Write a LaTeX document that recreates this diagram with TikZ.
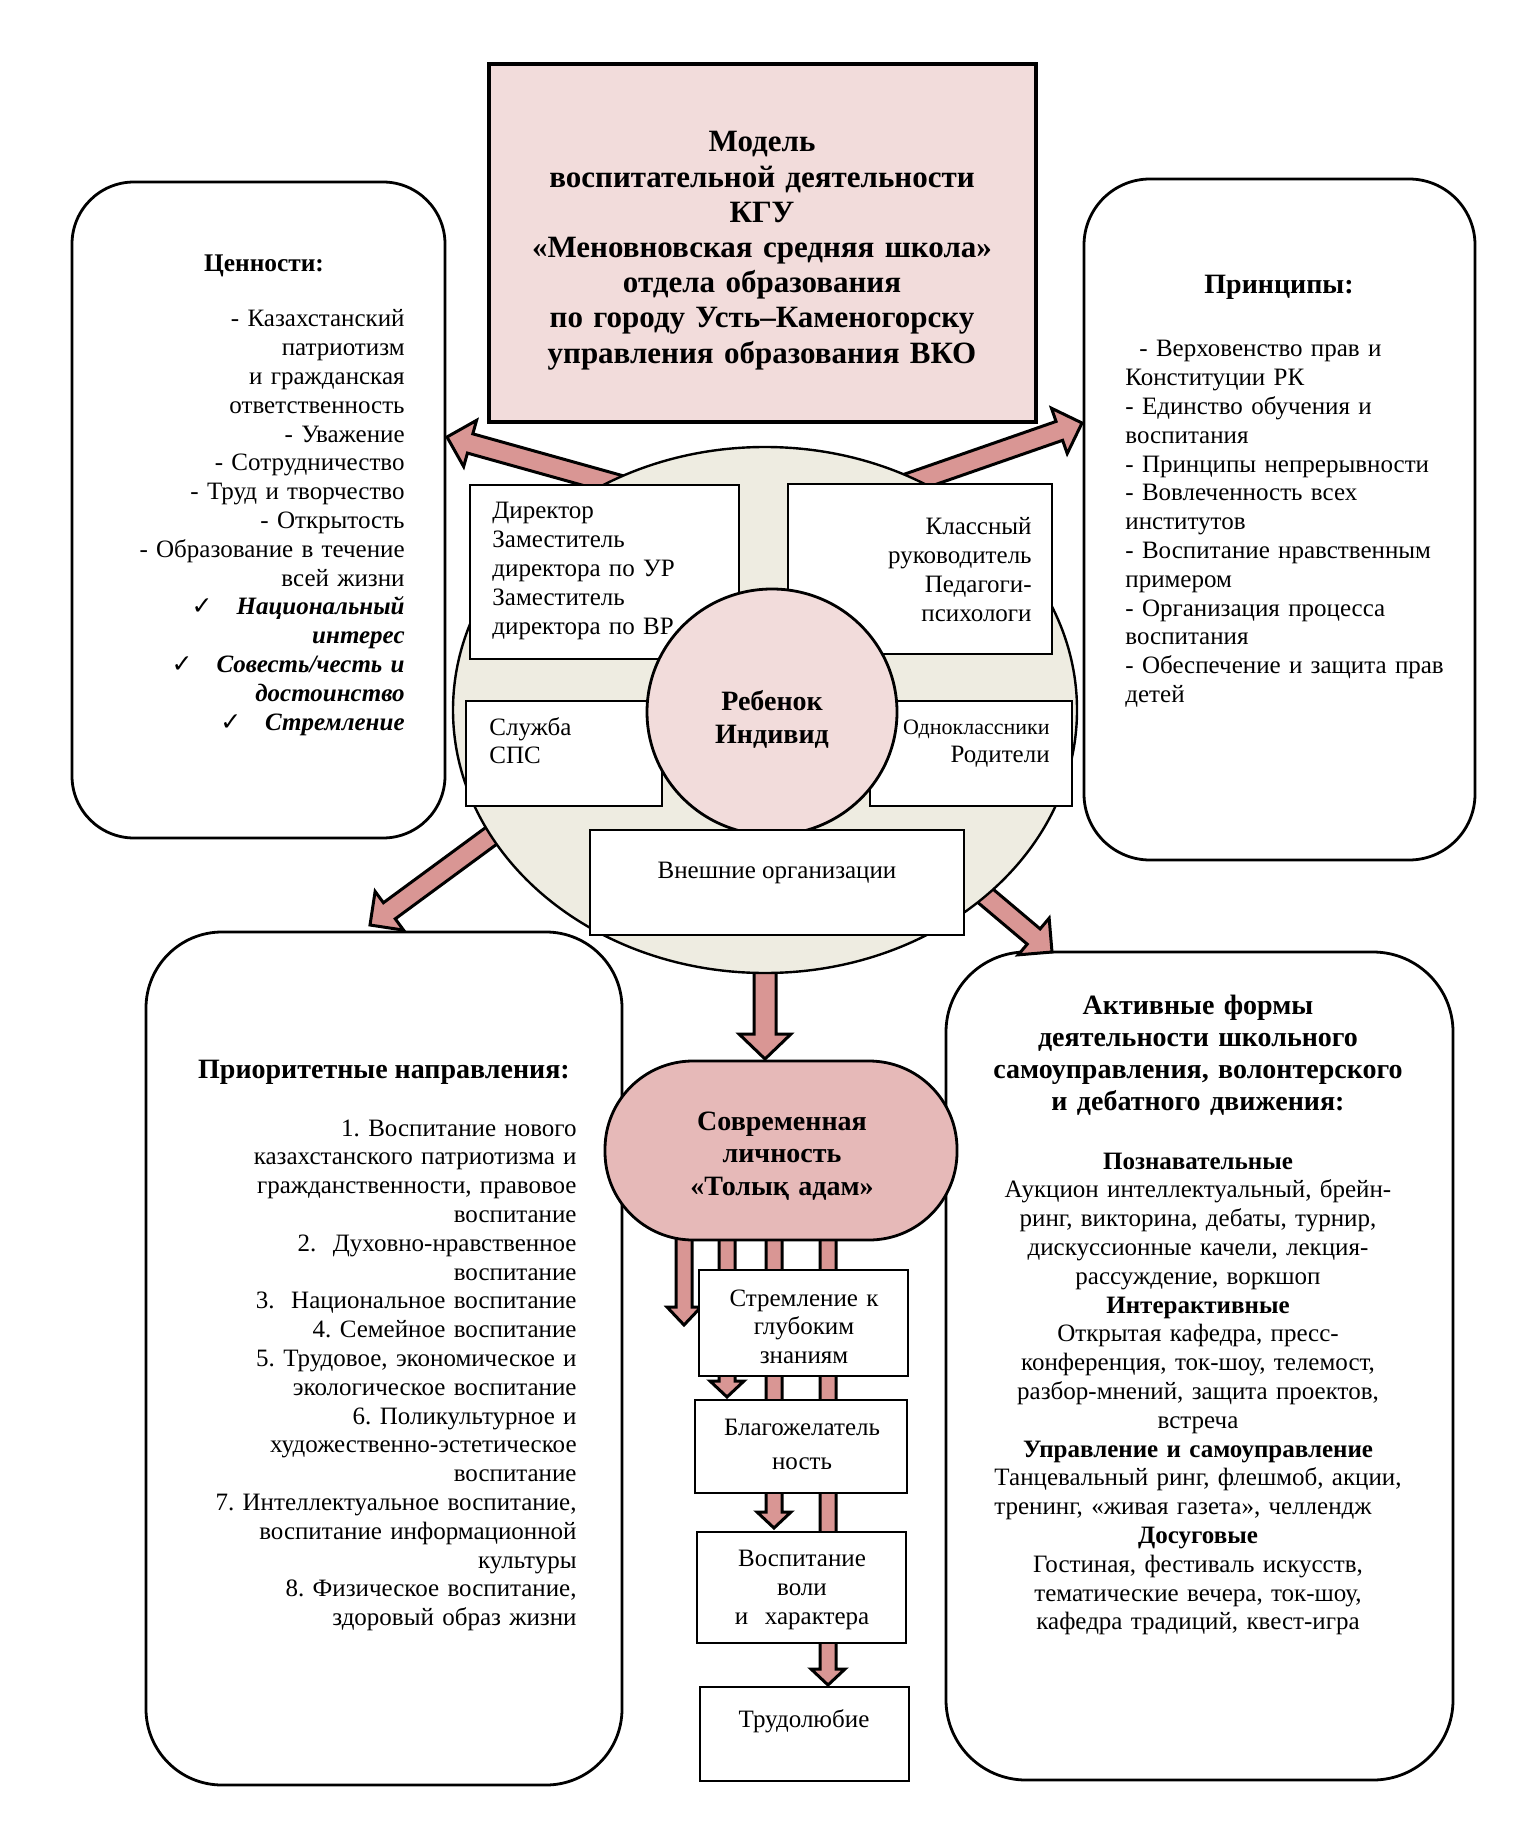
\documentclass[tikz,border=0pt]{standalone}
\usepackage{fontspec}
\setmainfont{Liberation Serif}
\newfontfamily\fuentesimbolos{DejaVu Sans}
\usetikzlibrary{calc, fit, shapes.geometric}
\frenchspacing

\definecolor{FilledTitle}{HTML}{F2DCDB}
\definecolor{FilledChild}{HTML}{F2DCDB}
\definecolor{FilledPerson}{HTML}{E6B9B8}
\definecolor{FilledArrow}{HTML}{D99694}
\definecolor{FilledOrbit}{HTML}{EEECE1}

\newcommand{\cheque}{{\fuentesimbolos\fontsize{12.5}{14}\selectfont ✓}}

% Flecha de bloque: inicio, fin, semiancho del cuerpo, semiancho de la punta, largo de la punta
\newcommand{\flechabloque}[5]{%
  \coordinate (fb-h) at ($(#2)!#5!(#1)$);
  \draw[flecha]
    ($(#1)!#3!90:(#2)$) -- ($(fb-h)!#3!90:(#2)$) -- ($(fb-h)!#4!90:(#2)$)
    -- (#2)
    -- ($(fb-h)!#4!270:(#2)$) -- ($(fb-h)!#3!270:(#2)$) -- ($(#1)!#3!270:(#2)$)
    -- cycle;
}

\tikzset{
  texto/.style={font=\fontsize{12.5}{14.4}\selectfont, inner sep=0pt},
  encabezado/.style={font=\bfseries\fontsize{14}{16}\selectfont, inner sep=0pt},
  marco/.style={draw, line width=1.3pt, fill=white, inner sep=0pt},
  marcoredondo/.style={draw, line width=1.4pt, inner sep=0pt, rounded corners=#1},
  flecha/.style={draw, fill=FilledArrow, line width=1.5pt, line join=miter},
}

\begin{document}
\begin{tikzpicture}[x=0.5pt, y=-0.5pt]

\useasboundingbox (0,0) rectangle (1529,1839);

% Coordenadas de las flechas grandes
\coordinate (E1) at (626,487);   \coordinate (T1) at (447,437);
\coordinate (E2) at (898,487);   \coordinate (T2) at (1082,423);
\coordinate (E3) at (506,825);   \coordinate (T3) at (370,925);
\coordinate (E4) at (975,887);   \coordinate (T4) at (1052,952);
\coordinate (E5) at (765,950);   \coordinate (T5) at (765,1059);

% Coordenadas de las flechas pequeñas
\coordinate (S1) at (684,1200);  \coordinate (R1) at (684,1325);
\coordinate (S2) at (727,1200);  \coordinate (R2) at (727,1397);
\coordinate (S3) at (774,1200);  \coordinate (R3) at (774,1528);
\coordinate (S4) at (828,1200);  \coordinate (R4) at (828,1685);

% Bloques exteriores
\node[marcoredondo=31pt, fit={(72,182) (445,838)}] (valores) {};
\node[marcoredondo=33pt, fit={(1084,179) (1475,860)}] (principios) {};
\node[marcoredondo=38pt, fit={(146,932) (622,1785)}] (prioridades) {};
\node[marcoredondo=40pt, fit={(946,952) (1453,1780)}] (formas) {};

% Titulo del modelo
\node[marco, line width=2pt, fill=FilledTitle, fit={(489,64) (1036,422)}] (titulo) {};

% Flechas grandes, antes del ovalo para que este tape sus colas
\flechabloque{E1}{T1}{5pt}{12pt}{12pt}
\flechabloque{E2}{T2}{5pt}{12pt}{12pt}
\flechabloque{E3}{T3}{5pt}{12pt}{12pt}
\flechabloque{E4}{T4}{5pt}{12pt}{12pt}
\flechabloque{E5}{T5}{5.5pt}{13pt}{12.5pt}

% Ovalo con los participantes
\node[ellipse, draw, line width=1.2pt, fill=FilledOrbit, inner sep=0pt,
      minimum width=312pt, minimum height=263pt] (orbita) at (765,710) {};

\node[marco, fit={(470,485) (739,659)}] (direccion) {};
\node[marco, fit={(788,484) (1052,654)}] (clase) {};
\node[marco, fit={(466,701) (662,806)}] (servicio) {};
\node[marco, fit={(870,701) (1072,806)}] (familia) {};

\node[ellipse, draw, line width=1.4pt, fill=FilledChild, inner sep=0pt,
      minimum width=125pt, minimum height=123pt] (nino) at (772,712) {};

\node[marco, fit={(590,830) (964,935)}] (externas) {};

% Flechas pequeñas hacia las cualidades
\flechabloque{S1}{R1}{4pt}{8.5pt}{9pt}
\flechabloque{S2}{R2}{4pt}{8.5pt}{8pt}
\flechabloque{S3}{R3}{4pt}{8.5pt}{8pt}
\flechabloque{S4}{R4}{4pt}{8.5pt}{8pt}

% Personalidad y cualidades
\node[draw, line width=1.4pt, fill=FilledPerson, inner sep=0pt, rounded corners=44pt,
      fit={(605,1061) (957,1240)}] (persona) {};

\node[marco, fit={(699,1270) (908,1376)}] (anhelo) {};
\node[marco, fit={(695,1400) (907,1493)}] (bene) {};
\node[marco, fit={(697,1532) (906,1643)}] (voluntad) {};
\node[marco, fit={(700,1687) (909,1781)}] (trabajo) {};

% Textos de los bloques
\node[encabezado, font=\bfseries\fontsize{15.5}{17.6}\selectfont, text width=270pt,
      align=center, anchor=base] (tTitulo) at (762,152)
  {Модель\\ воспитательной деятельности\\ КГУ\\ «Меновновская средняя школа»\\
   отдела образования\\ по городу Усть–Каменогорску\\ управления образования ВКО};

\node[encabezado, font=\bfseries\fontsize{14}{16.5}\selectfont, text width=110pt,
      align=center, anchor=base] (tNino) at (772,710.5) {Ребенок\\ Индивид};

\node[encabezado, font=\bfseries\fontsize{14}{16.25}\selectfont, text width=170pt,
      align=center, anchor=base] (tPersona) at (782,1130)
  {Современная\\ личность\\ «Толық адам»};

\node[texto, text width=100pt, align=center, anchor=base] (tAnhelo) at (804,1306)
  {Стремление к\\ глубоким\\ знаниям};
\node[texto, text width=100pt, align=center, anchor=base] (tBene) at (802,1435)
  {Благожелатель\\[2.6pt] ность};
\node[texto, text width=100pt, align=center, anchor=base] (tVoluntad) at (802,1566.5)
  {Воспитание\\ воли\\ и\ \ характера};
\node[texto, anchor=base] (tTrabajo) at (804,1727) {Трудолюбие};

\node[encabezado, font=\bfseries\fontsize{12.7}{15}\selectfont, anchor=base] (tValores)
  at (264,272) {Ценности:};
\node[texto, text width=150pt, align=right, anchor=base east] (lValores) at (405,327)
  {- Казахстанский\\ патриотизм\\ и гражданская\\ ответственность\\ - Уважение\\
   - Сотрудничество\\ - Труд и творчество\\ - Открытость\\ - Образование в течение\\
   всей жизни\\
   \cheque\hspace{12pt}\textbf{\textit{Национальный}}\\ \textbf{\textit{интерес}}\\
   \cheque\hspace{12pt}\textbf{\textit{Совесть/честь и}}\\ \textbf{\textit{достоинство}}\\
   \cheque\hspace{12pt}\textbf{\textit{Стремление}}};

\node[encabezado, anchor=base] (tPrincipios) at (1279,294) {Принципы:};
\node[texto, text width=185pt, align=left, anchor=base west] (lPrincipios) at (1125,357)
  {\hspace*{7pt}- Верховенство прав и\\ Конституции РК\\ - Единство обучения и\\
   воспитания\\ - Принципы непрерывности\\ - Вовлеченность всех\\ институтов\\
   - Воспитание нравственным\\ примером\\ - Организация процесса\\ воспитания\\
   - Обеспечение и защита прав\\ детей};

\node[texto, text width=130pt, align=left, anchor=base west] (tDireccion) at (492,519)
  {Директор\\ Заместитель\\ директора по УР\\ Заместитель\\ директора по ВР};
\node[texto, text width=120pt, align=right, anchor=base east] (tClase) at (1032,535)
  {Классный\\ руководитель\\ Педагоги-\\ психологи};
\node[texto, text width=80pt, align=left, anchor=base west] (tServicio) at (489,735)
  {Служба\\ СПС};
\node[texto, text width=95pt, align=right, anchor=base east] (tFamilia) at (1050,734)
  {{\fontsize{11}{14.4}\selectfont Одноклассники}\\ Родители};
\node[texto, anchor=base] (tExternas) at (777,878) {Внешние организации};

\node[encabezado, anchor=base] (tPrioridades) at (384,1078) {Приоритетные направления:};
\node[texto, text width=200pt, align=right, anchor=base east] (lPrioridades) at (577,1136)
  {1. Воспитание нового\\ казахстанского патриотизма и\\ гражданственности, правовое\\
   воспитание\\ 2.\ \ Духовно-нравственное\\ воспитание\\ 3.\ \ Национальное воспитание\\
   4. Семейное воспитание\\ 5. Трудовое, экономическое и\\ экологическое воспитание\\
   6. Поликультурное и\\ художественно-эстетическое\\ воспитание\\
   7. Интеллектуальное воспитание,\\ воспитание информационной\\ культуры\\
   8. Физическое воспитание,\\ здоровый образ жизни};

\node[encabezado, text width=240pt, align=center, anchor=base] (tFormas) at (1198,1014)
  {Активные формы\\ деятельности школьного\\ самоуправления, волонтерского\\
   и дебатного движения:};
\node[texto, text width=240pt, align=center, anchor=base] (lFormas) at (1198,1169)
  {\textbf{Познавательные}\\ Аукцион интеллектуальный, брейн-\\ ринг, викторина, дебаты, турнир,\\
   дискуссионные качели, лекция-\\ рассуждение, воркшоп\\ \textbf{Интерактивные}\\
   Открытая кафедра, пресс-\\ конференция, ток-шоу, телемост,\\
   разбор-мнений, защита проектов,\\ встреча\\ \textbf{Управление и самоуправление}\\
   Танцевальный ринг, флешмоб, акции,\\ тренинг, «живая газета», челлендж\hspace*{15pt}\mbox{}\\
   \textbf{Досуговые}\\ Гостиная, фестиваль искусств,\\ тематические вечера, ток-шоу,\\
   кафедра традиций, квест-игра};

\end{tikzpicture}
\end{document}
